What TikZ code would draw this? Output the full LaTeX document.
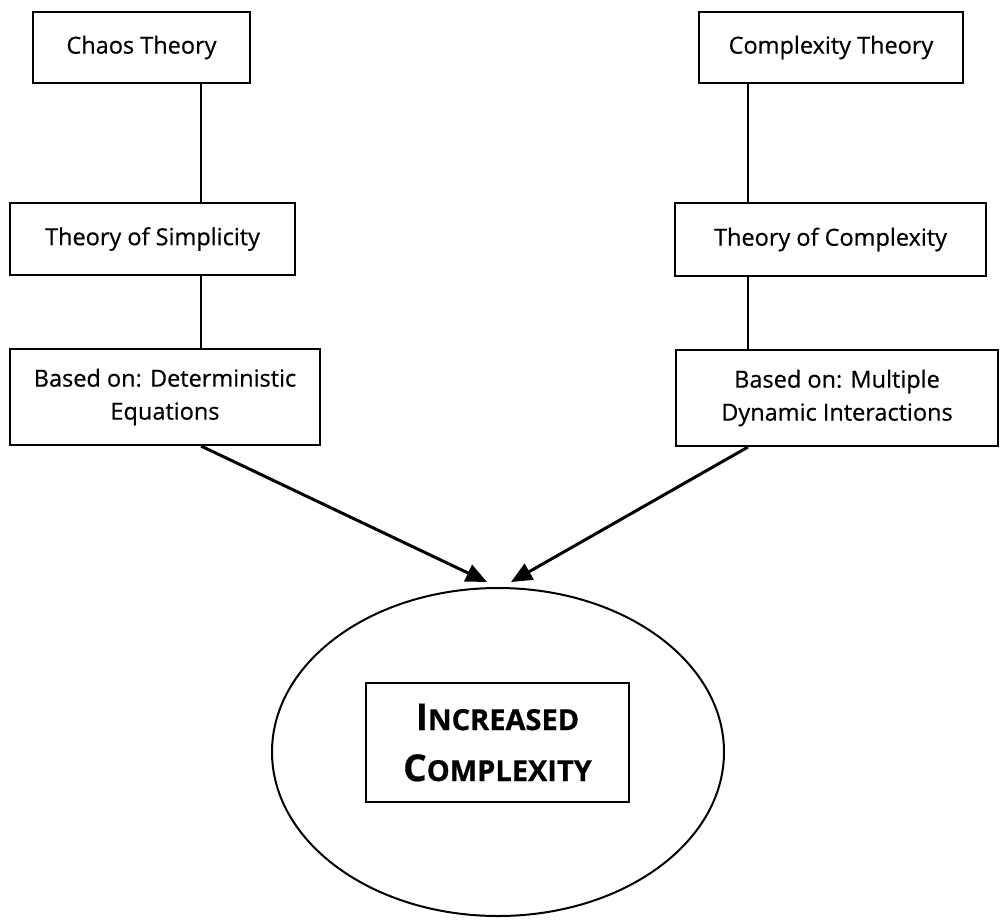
\documentclass[tikz,border=0pt]{standalone}
\usepackage{fontspec}
\setmainfont{Open Sans}[FakeBold=0.6]
\newfontfamily\heavyfont{Open Sans}[FakeBold=0.6]
\usetikzlibrary{arrows.meta,shapes.geometric}
\newcommand{\myBigCap}[1]{{\fontsize{37}{37}\selectfont #1}}
\newcommand{\mySmallCap}[1]{{\fontsize{29}{29}\selectfont #1}}
\begin{document}
\begin{tikzpicture}[x=1pt,y=-1pt,
  box/.style={draw, line width=2pt, inner sep=0pt, align=center,
    font=\heavyfont\fontsize{23.5}{33}\selectfont},
  link/.style={line width=2pt},
  arr/.style={line width=3pt, -{Triangle[length=21pt,width=18pt]}}]
\useasboundingbox (0,0) rectangle (1000,919);
% left column
\node[box, minimum width=217pt, minimum height=71pt] (chaos) at (141.5,47.5) {Chaos Theory};
\node[box, minimum width=285pt, minimum height=72pt] (simp) at (152.5,239) {Theory of Simplicity};
\node[box, minimum width=310pt, minimum height=96pt] (det) at (165,397) {Based on: Deterministic\\Equations};
% right column
\node[box, minimum width=264pt, minimum height=71pt] (ctheory) at (831,47.5) {Complexity Theory};
\node[box, minimum width=311pt, minimum height=73pt] (tcomp) at (830.5,239.5) {Theory of Complexity};
\node[box, minimum width=322pt, minimum height=96pt] (multi) at (837,398) {Based on: Multiple\\Dynamic Interactions};
% bottom
\node[draw, ellipse, line width=2pt, inner sep=0pt, minimum width=452pt, minimum height=328pt] (ell) at (498,752) {};
\node[box, minimum width=263pt, minimum height=119pt, font=\bfseries\fontsize{29}{51}\selectfont] (inc) at (497.5,742.5)
  {\myBigCap{I}\mySmallCap{NCREASED}\\\myBigCap{C}\mySmallCap{OMPLEXITY}};
% columns of the connectors
\coordinate (colL) at (201,0);
\coordinate (colR) at (748,0);
\coordinate (tipL) at (487,582);
\coordinate (tipR) at (511,582);
\draw[link] (chaos.south -| colL) -- (simp.north -| colL);
\draw[link] (simp.south -| colL) -- (det.north -| colL);
\draw[link] (ctheory.south -| colR) -- (tcomp.north -| colR);
\draw[link] (tcomp.south -| colR) -- (multi.north -| colR);
\draw[arr] (det.south -| colL) -- (tipL);
\draw[arr] (multi.south -| colR) -- (tipR);
\end{tikzpicture}
\end{document}
